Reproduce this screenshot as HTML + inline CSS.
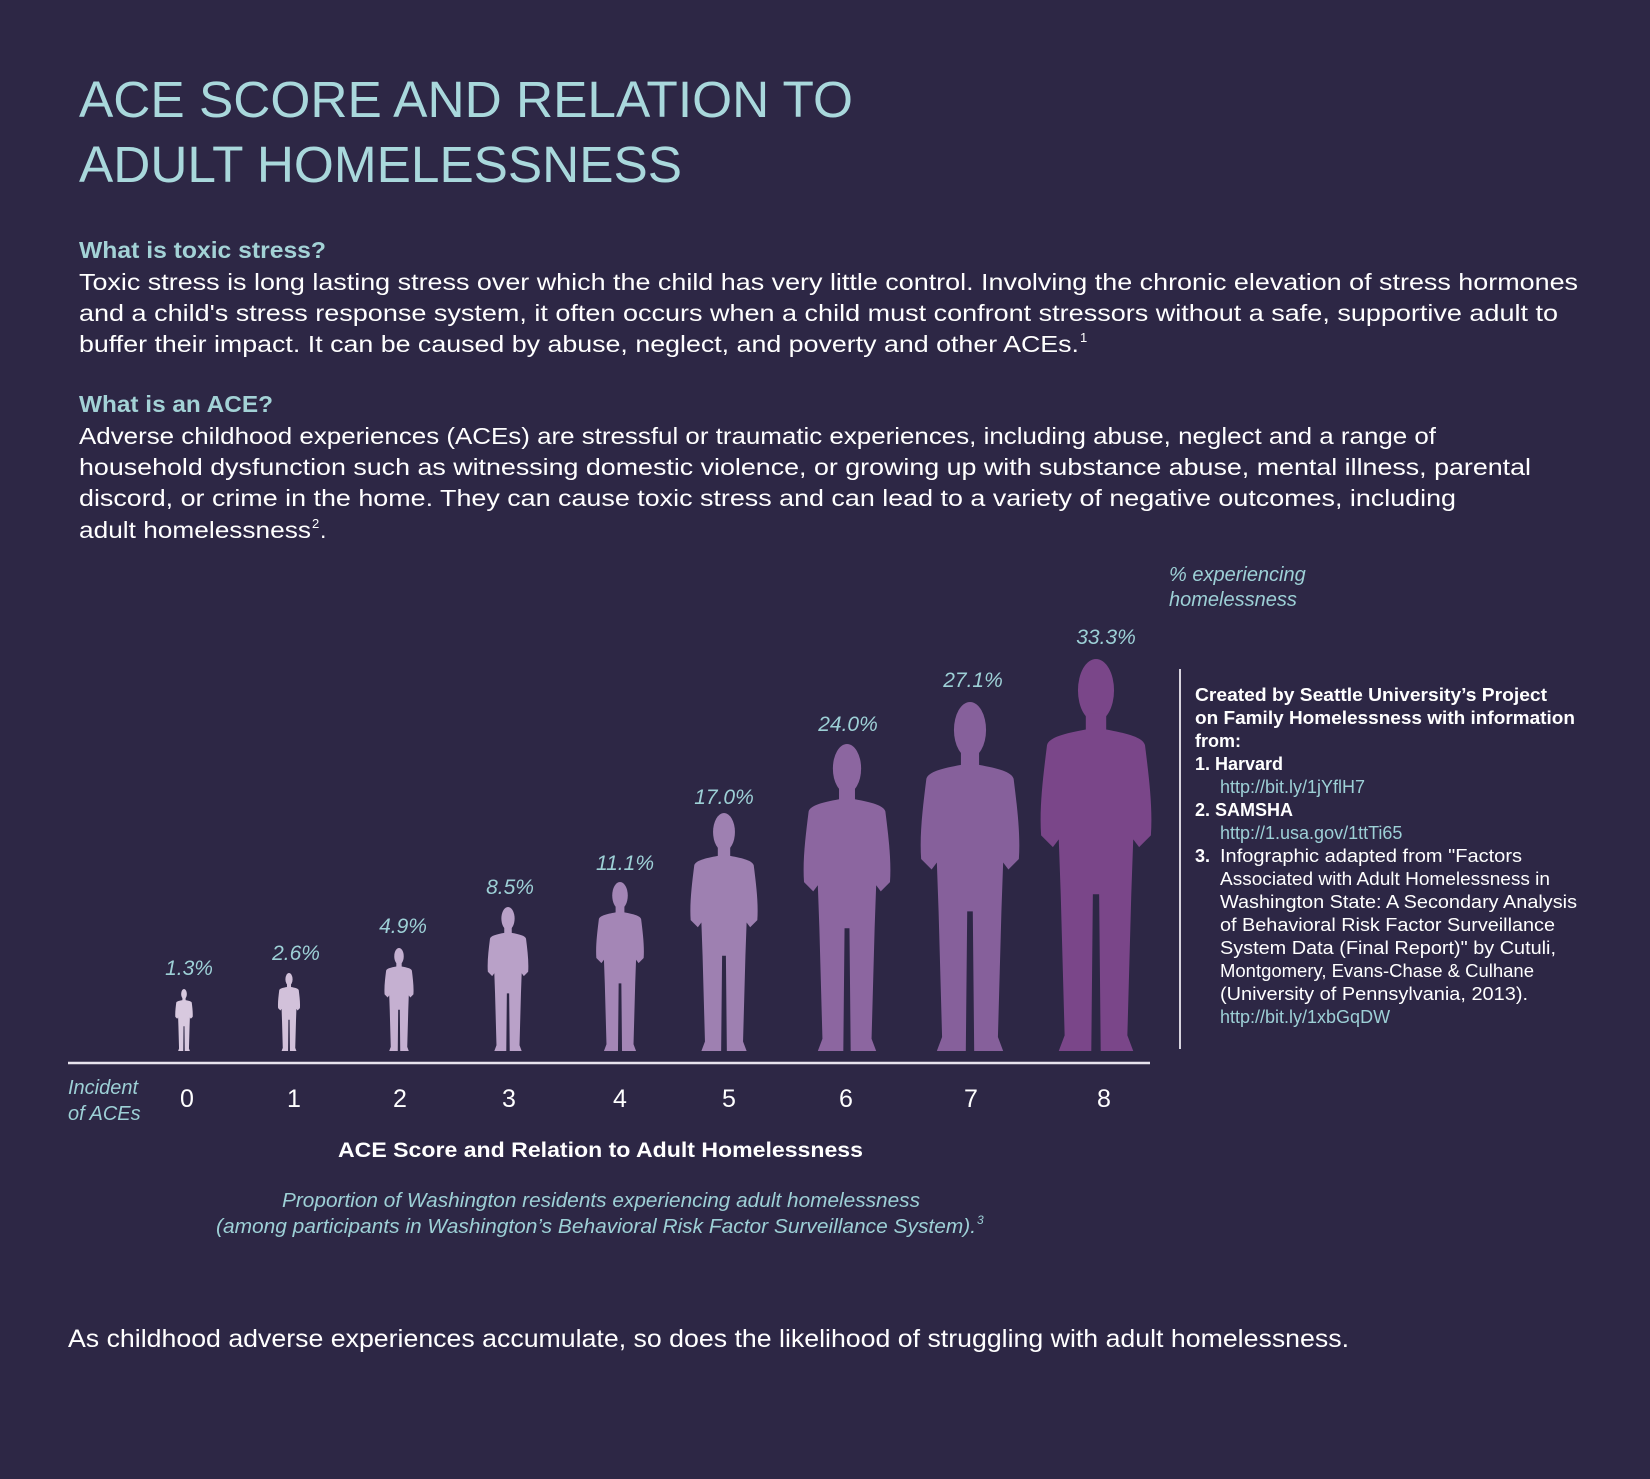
<!DOCTYPE html>
<html><head><meta charset="utf-8"><style>
html,body{margin:0;padding:0;background:#2d2745;}
svg{display:block;}
text{font-family:"Liberation Sans",sans-serif;}
</style></head><body>
<svg width="1650" height="1479" viewBox="0 0 1650 1479" xmlns="http://www.w3.org/2000/svg">
<defs>
<g id="man">
<ellipse cx="0" cy="8" rx="4.6" ry="8"/>
<path d="M -2.6 14 L -2.6 18 C -8 19 -12 20 -12.5 22 C -13.5 30 -14.5 38 -14 45 L -11 48 L -9.5 46 L -9 60 L -8 96 L -9.5 100 L -1.2 100 L -0.8 60 L 0.8 60 L 1.2 100 L 9.5 100 L 8 96 L 9 60 L 9.5 46 L 11 48 L 14 45 C 14.5 38 13.5 30 12.5 22 C 12 20 8 19 2.6 18 L 2.6 14 Z"/>
</g>
</defs>
<rect width="1650" height="1479" fill="#2d2745"/>
<g fill="#a9d8dc" font-size="51" font-weight="normal">
<text x="79" y="117" textLength="774" lengthAdjust="spacingAndGlyphs">ACE SCORE AND RELATION TO</text>
<text x="79" y="182" textLength="603" lengthAdjust="spacingAndGlyphs">ADULT HOMELESSNESS</text>
</g>
<g font-size="23">
<text x="79" y="258" fill="#a3d2d6" font-weight="bold" textLength="247" lengthAdjust="spacingAndGlyphs">What is toxic stress?</text>
<g fill="#ffffff">
<text x="79" y="290" textLength="1499" lengthAdjust="spacingAndGlyphs">Toxic stress is long lasting stress over which the child has very little control. Involving the chronic elevation of stress hormones</text>
<text x="79" y="321" textLength="1479" lengthAdjust="spacingAndGlyphs">and a child's stress response system, it often occurs when a child must confront stressors without a safe, supportive adult to</text>
<text x="79" y="352" textLength="1000" lengthAdjust="spacingAndGlyphs">buffer their impact. It can be caused by abuse, neglect, and poverty and other ACEs.</text>
<text x="1080" y="342" font-size="13">1</text>
</g>
<text x="79" y="412" fill="#a3d2d6" font-weight="bold" textLength="194" lengthAdjust="spacingAndGlyphs">What is an ACE?</text>
<g fill="#ffffff">
<text x="79" y="444" textLength="1357" lengthAdjust="spacingAndGlyphs">Adverse childhood experiences (ACEs) are stressful or traumatic experiences, including abuse, neglect and a range of</text>
<text x="79" y="475" textLength="1452" lengthAdjust="spacingAndGlyphs">household dysfunction such as witnessing domestic violence, or growing up with substance abuse, mental illness, parental</text>
<text x="79" y="506" textLength="1377" lengthAdjust="spacingAndGlyphs">discord, or crime in the home. They can cause toxic stress and can lead to a variety of negative outcomes, including</text>
<text x="79" y="538" textLength="232" lengthAdjust="spacingAndGlyphs">adult homelessness</text>
<text x="312" y="528" font-size="13">2</text>
<text x="320" y="538">.</text>
</g>
</g>
<g fill="#9dd0d6" font-size="20" font-style="italic">
<text x="1169" y="581">% experiencing</text>
<text x="1169" y="606">homelessness</text>
</g>
<!-- figures -->
<g>
<use href="#man" fill="#d8c9df" transform="translate(184,1051) scale(0.62) translate(0,-100)"/>
<use href="#man" fill="#d2c1da" transform="translate(289,1051) scale(0.78) translate(0,-100)"/>
<use href="#man" fill="#c5b0d1" transform="translate(399,1051) scale(1.03) translate(0,-100)"/>
<use href="#man" fill="#b9a1c8" transform="translate(508,1051) scale(1.44) translate(0,-100)"/>
<use href="#man" fill="#a486b6" transform="translate(620,1051) scale(1.69) translate(0,-100)"/>
<use href="#man" fill="#9e80b1" transform="translate(724,1051) scale(2.38) translate(0,-100)"/>
<use href="#man" fill="#8c66a0" transform="translate(847,1051) scale(3.07) translate(0,-100)"/>
<use href="#man" fill="#86609b" transform="translate(970,1051) scale(3.49) translate(0,-100)"/>
<use href="#man" fill="#7a4689" transform="translate(1096,1051) scale(3.92) translate(0,-100)"/>
</g>
<g fill="#9dd0d6" font-size="21" font-style="italic" text-anchor="middle">
<text x="189" y="975">1.3%</text>
<text x="296" y="960">2.6%</text>
<text x="403" y="933">4.9%</text>
<text x="510" y="894">8.5%</text>
<text x="625" y="870">11.1%</text>
<text x="724" y="804">17.0%</text>
<text x="848" y="731">24.0%</text>
<text x="973" y="687">27.1%</text>
<text x="1106" y="644">33.3%</text>
</g>
<line x1="68" y1="1063" x2="1150" y2="1063" stroke="#e8e4ee" stroke-width="2.5"/>
<line x1="1180" y1="669" x2="1180" y2="1049" stroke="#d8d4de" stroke-width="2"/>
<g fill="#9dd0d6" font-size="20" font-style="italic">
<text x="68" y="1094">Incident</text>
<text x="68" y="1120">of ACEs</text>
</g>
<g fill="#ffffff" font-size="25" text-anchor="middle">
<text x="187" y="1107">0</text><text x="294" y="1107">1</text><text x="400" y="1107">2</text>
<text x="509" y="1107">3</text><text x="620" y="1107">4</text><text x="729" y="1107">5</text>
<text x="846" y="1107">6</text><text x="971" y="1107">7</text><text x="1104" y="1107">8</text>
</g>
<g font-size="18" fill="#ffffff">
<g font-weight="bold">
<text x="1195" y="701" textLength="352" lengthAdjust="spacingAndGlyphs">Created by Seattle University’s Project</text>
<text x="1195" y="724" textLength="380" lengthAdjust="spacingAndGlyphs">on Family Homelessness with information</text>
<text x="1195" y="747">from:</text>
<text x="1195" y="770">1. Harvard</text>
<text x="1195" y="816">2. SAMSHA</text>
<text x="1195" y="862">3.</text>
</g>
<text x="1220" y="793" fill="#9dd0d6">http://bit.ly/1jYflH7</text>
<text x="1220" y="839" fill="#9dd0d6">http://1.usa.gov/1ttTi65</text>
<text x="1220" y="862" textLength="302" lengthAdjust="spacingAndGlyphs">Infographic adapted from "Factors</text>
<text x="1220" y="885" textLength="330" lengthAdjust="spacingAndGlyphs">Associated with Adult Homelessness in</text>
<text x="1220" y="908" textLength="357" lengthAdjust="spacingAndGlyphs">Washington State: A Secondary Analysis</text>
<text x="1220" y="931" textLength="335" lengthAdjust="spacingAndGlyphs">of Behavioral Risk Factor Surveillance</text>
<text x="1220" y="954" textLength="336" lengthAdjust="spacingAndGlyphs">System Data (Final Report)" by Cutuli,</text>
<text x="1220" y="977" textLength="314" lengthAdjust="spacingAndGlyphs">Montgomery, Evans-Chase &amp; Culhane</text>
<text x="1220" y="1000" textLength="308" lengthAdjust="spacingAndGlyphs">(University of Pennsylvania, 2013).</text>
<text x="1220" y="1023" fill="#9dd0d6">http://bit.ly/1xbGqDW</text>
</g>
<text x="338" y="1157" fill="#ffffff" font-size="21" font-weight="bold" textLength="525" lengthAdjust="spacingAndGlyphs">ACE Score and Relation to Adult Homelessness</text>
<g fill="#9dd0d6" font-size="20" font-style="italic">
<text x="282" y="1207" textLength="638" lengthAdjust="spacingAndGlyphs">Proportion of Washington residents experiencing adult homelessness</text>
<text x="216" y="1233" textLength="760" lengthAdjust="spacingAndGlyphs">(among participants in Washington’s Behavioral Risk Factor Surveillance System).</text>
<text x="977" y="1224" font-size="12">3</text>
</g>
<text x="68" y="1347" fill="#ffffff" font-size="25" textLength="1281" lengthAdjust="spacingAndGlyphs">As childhood adverse experiences accumulate, so does the likelihood of struggling with adult homelessness.</text>
</svg>
</body></html>
